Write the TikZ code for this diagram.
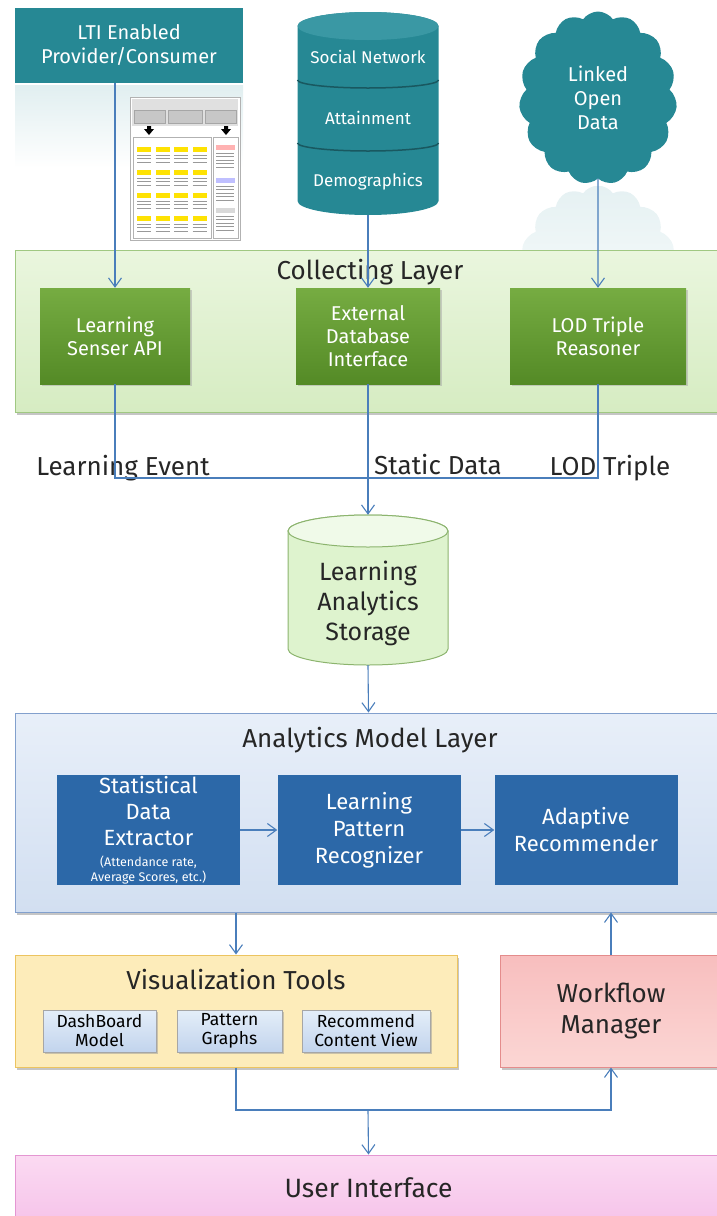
\documentclass[tikz,border=0pt]{standalone}
\usepackage{fontspec}
\setmainfont{Fira Sans}
\usepackage{tikz}
\usetikzlibrary{arrows.meta,shapes.symbols,shadows}

\definecolor{lti}{RGB}{38,136,148}
\definecolor{ltitop}{RGB}{58,152,164}
\definecolor{wire}{RGB}{74,126,187}
\definecolor{colltop}{RGB}{234,246,222}
\definecolor{collbot}{RGB}{214,236,194}
\definecolor{colldraw}{RGB}{160,200,130}
\definecolor{grntop}{RGB}{118,172,66}
\definecolor{grnbot}{RGB}{84,138,38}
\definecolor{storefill}{RGB}{222,243,206}
\definecolor{storedraw}{RGB}{140,180,110}
\definecolor{anatop}{RGB}{232,239,249}
\definecolor{anabot}{RGB}{210,223,241}
\definecolor{anadraw}{RGB}{130,160,205}
\definecolor{bluebox}{RGB}{44,104,168}
\definecolor{visfill}{RGB}{253,236,186}
\definecolor{visdraw}{RGB}{236,196,96}
\definecolor{subtop}{RGB}{228,238,249}
\definecolor{subbot}{RGB}{194,212,237}
\definecolor{wftop}{RGB}{248,190,190}
\definecolor{wfbot}{RGB}{251,214,212}
\definecolor{wfdraw}{RGB}{228,140,140}
\definecolor{uitop}{RGB}{251,218,242}
\definecolor{uibot}{RGB}{246,196,234}
\definecolor{uidraw}{RGB}{228,150,210}

\newcommand{\tinytxt}{\fontsize{12.5}{13}\selectfont}

\begin{document}
\begin{tikzpicture}[x=1pt,y=-1pt,>={Straight Barb[length=9pt,width=13pt]},
 font=\fontsize{20}{24}\selectfont,
 tl/.style={fill=lti,text=white,align=center,inner sep=0pt},
 layer/.style={draw=#1,line width=1pt,inner sep=0pt,
   drop shadow={shadow xshift=2pt,shadow yshift=-2.5pt,fill=black!45}},
 grn/.style={top color=grntop,bottom color=grnbot,text=white,align=center,inner sep=0pt,
   minimum height=96pt,font=\fontsize{20}{23}\selectfont,
   drop shadow={shadow xshift=1.5pt,shadow yshift=-2pt,fill=black!35}},
 blu/.style={fill=bluebox,text=white,align=center,inner sep=0pt,minimum width=183pt,
   minimum height=110pt,font=\fontsize{22}{27}\selectfont},
 sub/.style={top color=subtop,bottom color=subbot,draw=black!35,align=center,inner sep=0pt,
   minimum height=42pt,font=\fontsize{17.5}{19}\selectfont,
   drop shadow={shadow xshift=1.5pt,shadow yshift=-1.5pt,fill=black!40}},
 ttl/.style={font=\fontsize{26}{30}\selectfont,text=black!85},
 lbl/.style={font=\fontsize{26}{30}\selectfont,text=black!85},
 e/.style={->,line width=1.1pt,draw=wire},
 w/.style={line width=1.1pt,draw=wire}]
\useasboundingbox (0,0) rectangle (716,1216);

% sources
\shade[top color=lti!14,bottom color=white] (15,85) rectangle (243,168);
\node[tl,minimum width=228pt,minimum height=75pt] (lti) at (129,45.5) {LTI Enabled\\Provider/Consumer};

% small report thumbnail
\draw[black!30,fill=white] (130,97) rectangle (240,240);
\fill[black!12] (132,99) rectangle (238,126);
\foreach \a/\b in {134/165,168/202,205/236}
  \filldraw[fill=black!22,draw=black!35,line width=0.3pt] (\a,110) rectangle (\b,123);
\foreach \a in {149,226}
  \fill (\a-2,126) rectangle (\a+2,129) (\a-5,129) -- (\a+5,129) -- (\a,135) -- cycle;
\draw[black!30,fill=white] (133,137) rectangle (211,238);
\draw[black!30,fill=white] (213,137) rectangle (238,238);
\foreach \i in {0,...,3}
  \foreach \j in {0,...,3} {
    \fill[yellow!85!orange] (137+\i*18.5,147+\j*23) rectangle (151+\i*18.5,152+\j*23);
    \foreach \k in {0,1,2}
      \draw[black!40,line width=0.4pt] (137+\i*18.5,155+\j*23+\k*3.5) -- (151+\i*18.5,155+\j*23+\k*3.5);
  }
\foreach \y/\c in {145/red!30,178/blue!25,208/black!15} {
  \fill[\c] (216,\y) rectangle (235,\y+5);
  \foreach \k in {0,...,4}
    \draw[black!40,line width=0.4pt] (216,\y+8+\k*3.5) -- (234,\y+8+\k*3.5);
}

% stacked database
\fill[lti] (297.5,26) -- (297.5,201) arc[start angle=180,end angle=360,x radius=70.5pt,y radius=14pt]
  -- (438.5,26) arc[start angle=0,end angle=180,x radius=70.5pt,y radius=14pt] -- cycle;
\fill[ltitop] (368,26) ellipse[x radius=70.5pt,y radius=14pt];
\draw[lti!65!black,line width=1.5pt] (297.5,80) arc[start angle=180,end angle=360,x radius=70.5pt,y radius=8pt];
\draw[lti!65!black,line width=1.5pt] (297.5,143) arc[start angle=180,end angle=360,x radius=70.5pt,y radius=8pt];
\node[text=white,font=\fontsize{17}{20}\selectfont] (social) at (368,57) {Social Network};
\node[text=white,font=\fontsize{17}{20}\selectfont] (attain) at (368,118) {Attainment};
\node[text=white,font=\fontsize{17}{20}\selectfont] (demo) at (368,182) {Demographics};
\node[inner sep=0pt,minimum width=141pt,minimum height=203pt] (db) at (368,113.5) {};

% linked open data cloud and its reflection
\begin{scope}
\clip (500,186) rectangle (700,250);
\node[cloud,cloud puffs=15,cloud puff arc=110,aspect=0.9,minimum width=158pt,
  minimum height=173pt,top color=lti!12,bottom color=white] (mirror) at (598,272) {};
\end{scope}
\node[cloud,cloud puffs=15,cloud puff arc=110,aspect=0.9,fill=lti,text=white,align=center,
  minimum width=158pt,minimum height=173pt] (lod) at (598,98) {Linked\\Open\\Data};

% collecting layer
\node[layer=colldraw,top color=colltop,bottom color=collbot,minimum width=707pt,
  minimum height=162pt] (collect) at (368.5,331) {};
\node[ttl] (colltitle) at (370,272) {Collecting Layer};
\node[grn,minimum width=150pt] (sensor) at (115,336) {Learning\\Senser API};
\node[grn,minimum width=144pt] (extdb) at (368,336) {External\\Database\\Interface};
\node[grn,minimum width=176pt] (reasoner) at (598,336) {LOD Triple\\Reasoner};

\draw[e] (sensor.north |- lti.south) -- (sensor.north);
\draw[e] (db.south) -- (extdb.north);
\draw[e] (lod.south) -- (reasoner.north);

% storage
\filldraw[fill=storefill,draw=storedraw,line width=1pt] (288,531) -- (288,649)
  arc[start angle=180,end angle=360,x radius=80pt,y radius=16pt]
  -- (448,531) arc[start angle=0,end angle=180,x radius=80pt,y radius=16pt] -- cycle;
\filldraw[fill=storefill!45!white,draw=storedraw,line width=1pt] (368,531) ellipse[x radius=80pt,y radius=16pt];
\node[inner sep=0pt,minimum width=160pt,minimum height=150pt] (store) at (368,590) {};
\node[align=center,font=\fontsize{25}{30}\selectfont,text=black!85] (storetxt) at (368,603) {Learning\\Analytics\\Storage};

\node[lbl] (evtlbl) at (123,468) {Learning Event};
\node[lbl] (staticlbl) at (438,465) {Static Data};
\node[lbl] (triplelbl) at (610,468) {LOD Triple};

\coordinate (join) at (368,478);
\draw[w] (sensor.south) |- (join);
\draw[w] (reasoner.south) |- (join);
\draw[e] (extdb.south) -- (store.north);

% analytics model layer
\node[layer=anadraw,top color=anatop,bottom color=anabot,minimum width=707pt,
  minimum height=199pt] (analytics) at (368.5,812.5) {};
\node[ttl] (anatitle) at (370,740) {Analytics Model Layer};
\node[blu,font=\fontsize{22}{26}\selectfont] (extract) at (148.5,830) {Statistical\\Data\\Extractor\\[-5pt]{\tinytxt(Attendance rate,}\\[-11pt]{\tinytxt Average Scores, etc.)}};
\node[blu] (pattern) at (369,830) {Learning\\Pattern\\Recognizer};
\node[blu] (adapt) at (586,830) {Adaptive\\Recommender};
\draw[e] (extract) -- (pattern);
\draw[e] (pattern) -- (adapt);
\draw[e] (store.south) -- (analytics.north);

% visualization and workflow
\node[layer=visdraw,fill=visfill,minimum width=442pt,minimum height=112pt] (vis) at (236,1011) {};
\node[ttl] (vistitle) at (236,980) {Visualization Tools};
\node[sub,minimum width=113pt] (dash) at (99.5,1031) {DashBoard\\Model};
\node[sub,minimum width=105pt] (pgraph) at (229.5,1031) {Pattern\\Graphs};
\node[sub,minimum width=128pt] (rview) at (366,1031) {Recommend\\Content View};
\node[layer=wfdraw,top color=wftop,bottom color=wfbot,minimum width=222pt,minimum height=112pt,
  align=center,font=\fontsize{26}{31}\selectfont,text=black!85] (wf) at (611,1011) {Workflow\\Manager};

% user interface
\node[layer=uidraw,top color=uitop,bottom color=uibot,minimum width=707pt,minimum height=66pt,
  font=\fontsize{26.5}{30}\selectfont,text=black!85] (ui) at (368.5,1188) {User Interface};

\draw[e] (analytics.south -| vis.north) -- (vis.north);
\draw[e] (wf.north) -- (wf.north |- analytics.south);
\coordinate (split) at (368,1110);
\draw[e] (vis.south) |- (split) -| (wf.south);
\draw[e] (split) -- (ui.north);
\end{tikzpicture}
\end{document}
